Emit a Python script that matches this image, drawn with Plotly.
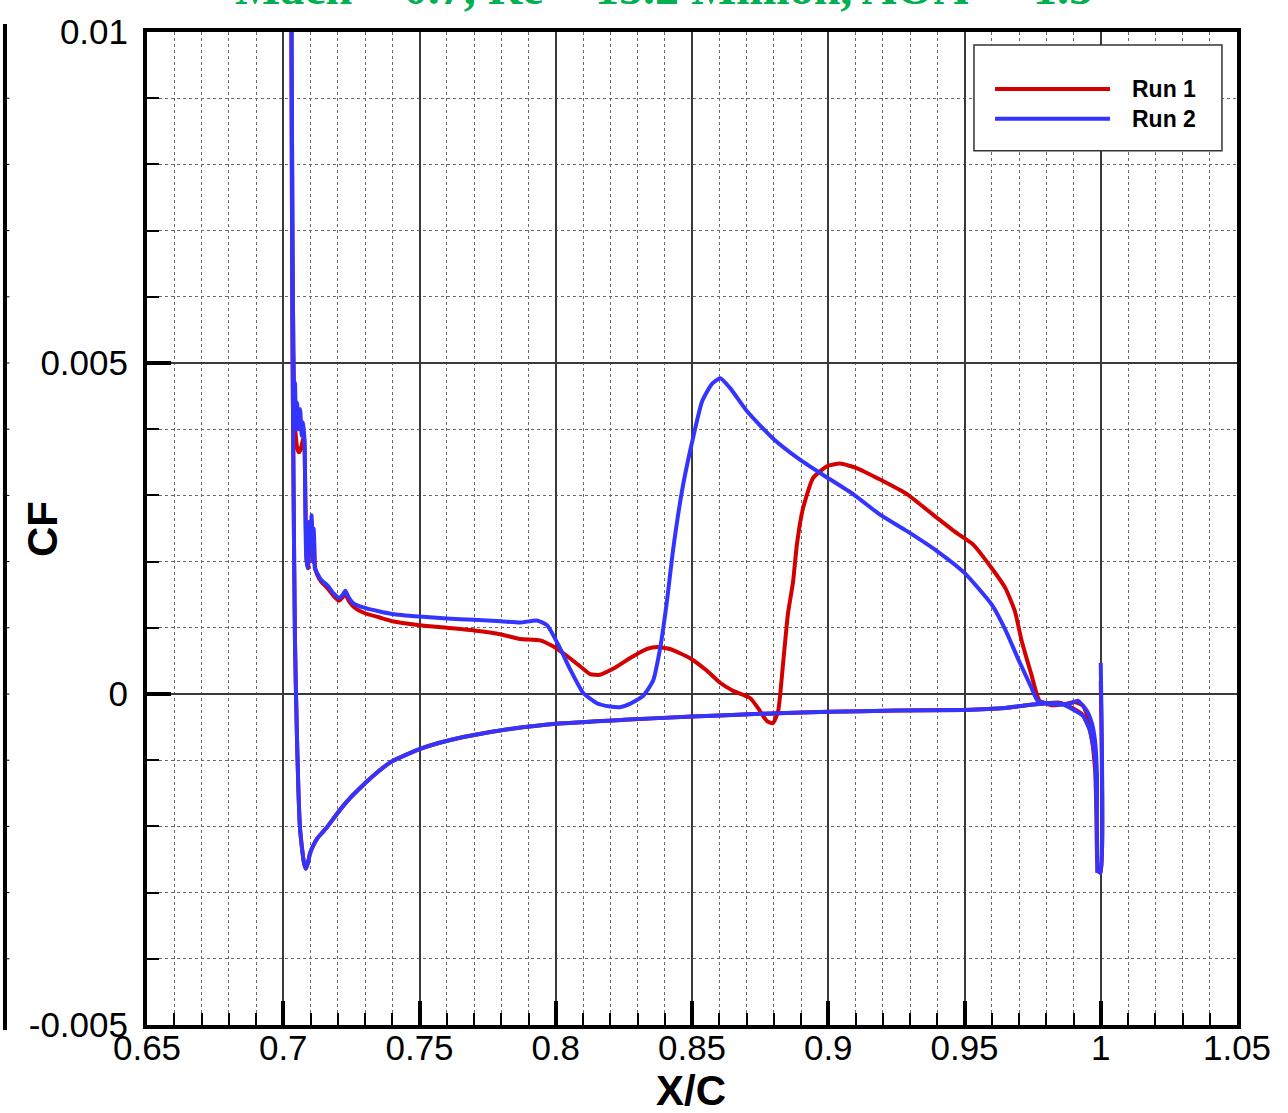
import plotly.graph_objects as go

# Skin-friction coefficient along the flap surface (X/C), two runs
run1_upper_x = [0.7028, 0.7031, 0.7034, 0.7037, 0.7041, 0.7046, 0.7052, 0.7058, 0.7064, 0.7070,
                0.7076, 0.7080, 0.7083, 0.7086, 0.7091, 0.7096, 0.7101, 0.7105, 0.7109, 0.7113,
                0.7117, 0.7125, 0.7140, 0.7162, 0.7185, 0.7205, 0.7218, 0.7228, 0.7240, 0.7260,
                0.7300, 0.7350, 0.7400, 0.7500, 0.7600, 0.7700, 0.7800, 0.7869, 0.7942, 0.7990,
                0.8052, 0.8089, 0.8126, 0.8162, 0.8210, 0.8272, 0.8335, 0.8372, 0.8419, 0.8493,
                0.8555, 0.8603, 0.8650, 0.8713, 0.8742, 0.8775, 0.8797, 0.8816, 0.8834, 0.8852,
                0.8871, 0.8885, 0.8907, 0.8944, 0.8995, 0.9043, 0.9106, 0.9190, 0.9289, 0.9384,
                0.9472, 0.9531, 0.9600, 0.9650, 0.9685, 0.9710, 0.9745, 0.9775, 0.9820, 0.9870,
                0.9905, 0.9935, 0.9955, 0.9970, 0.9983, 0.9990]
run1_upper_cf = [0.0130, 0.0095, 0.0068, 0.0052, 0.0043, 0.0039, 0.0037, 0.00365, 0.0037, 0.0038,
                 0.0039, 0.0033, 0.0025, 0.0020, 0.0019, 0.0025, 0.0022, 0.0026, 0.0020, 0.0024,
                 0.0019, 0.00180, 0.00169, 0.00160, 0.00148, 0.00141, 0.00146, 0.00151, 0.00141, 0.00131,
                 0.00122, 0.00116, 0.00110, 0.00104, 0.00100, 0.00096, 0.00090, 0.00083, 0.00081, 0.00072,
                 0.00054, 0.00042, 0.00030, 0.00029, 0.00038, 0.00054, 0.00068, 0.00071, 0.00068, 0.00054,
                 0.00035, 0.00017, 0.00005, -0.00006, -0.00021, -0.00041, -0.00044, -0.00026, 0.00045, 0.00121,
                 0.00170, 0.00226, 0.00280, 0.00326, 0.00344, 0.00348, 0.00341, 0.00324, 0.00302, 0.00271,
                 0.00243, 0.00226, 0.00190, 0.00160, 0.00125, 0.00080, 0.00030, -0.00010, -0.00017, -0.00015,
                 -0.00012, -0.00018, -0.00038, -0.00075, -0.00140, -0.00267]

run1_lower_x = [0.7028, 0.7033, 0.7038, 0.7043, 0.7050, 0.7056, 0.7061, 0.7068, 0.7076, 0.7083,
                0.7090, 0.7098, 0.7110, 0.7125, 0.7142, 0.7161, 0.7190, 0.7220, 0.7250, 0.7282,
                0.7310, 0.7340, 0.7370, 0.7403, 0.7450, 0.7502, 0.7570, 0.7649, 0.7740, 0.7832,
                0.8000, 0.8250, 0.8500, 0.8750, 0.9000, 0.9250, 0.9500, 0.9650, 0.9750, 0.9850,
                0.9930, 0.9958, 0.9977, 0.9988]
run1_lower_cf = [0.0130, 0.0060, 0.0030, 0.0008, -0.0006, -0.0015, -0.0020, -0.0023, -0.00255, -0.00264,
                 -0.00256, -0.00241, -0.00229, -0.00218, -0.00210, -0.00201, -0.00185, -0.00169, -0.00155, -0.00142,
                 -0.00131, -0.00120, -0.00110, -0.00101, -0.00092, -0.00083, -0.00074, -0.00066, -0.00059, -0.00053,
                 -0.00045, -0.00039, -0.00034, -0.00030, -0.00027, -0.00025, -0.00024, -0.00021, -0.00016, -0.00013,
                 -0.00030, -0.00052, -0.00095, -0.00270]

run2_upper_x = [0.7028, 0.7031, 0.7034, 0.7037, 0.7040, 0.7043, 0.7047, 0.7051, 0.7056, 0.7062,
                0.7068, 0.7074, 0.7079, 0.7081, 0.7084, 0.7089, 0.7094, 0.7099, 0.7104, 0.7108,
                0.7112, 0.7116, 0.7124, 0.7140, 0.7162, 0.7185, 0.7205, 0.7218, 0.7228, 0.7240,
                0.7260, 0.7300, 0.7350, 0.7400, 0.7500, 0.7600, 0.7700, 0.7800, 0.7869, 0.7931,
                0.7968, 0.8016, 0.8052, 0.8100, 0.8151, 0.8200, 0.8236, 0.8272, 0.8320, 0.8357,
                0.8383, 0.8408, 0.8430, 0.8463, 0.8493, 0.8537, 0.8574, 0.8604, 0.8640, 0.8702,
                0.8797, 0.8896, 0.8977, 0.9091, 0.9190, 0.9289, 0.9399, 0.9500, 0.9600, 0.9650,
                0.9700, 0.9745, 0.9768, 0.9800, 0.9850, 0.9890, 0.9916, 0.9950, 0.9968, 0.9979,
                0.9986, 0.9990]
run2_upper_cf = [0.0130, 0.0095, 0.0068, 0.0052, 0.0043, 0.0047, 0.0040, 0.0044, 0.0040, 0.0043,
                 0.0039, 0.0041, 0.0037, 0.0028, 0.0021, 0.0019, 0.0026, 0.0022, 0.0027, 0.0020,
                 0.0025, 0.0019, 0.00183, 0.00172, 0.00164, 0.00152, 0.00145, 0.00150, 0.00156, 0.00146,
                 0.00136, 0.00130, 0.00125, 0.00121, 0.00117, 0.00114, 0.00112, 0.00110, 0.00108, 0.00111,
                 0.00104, 0.00069, 0.00038, 0.00002, -0.00014, -0.00019, -0.00020, -0.00015, -0.00003, 0.00020,
                 0.00069, 0.00140, 0.00216, 0.00306, 0.00367, 0.00442, 0.00469, 0.00477, 0.00462, 0.00427,
                 0.00386, 0.00354, 0.00332, 0.00302, 0.00271, 0.00246, 0.00216, 0.00183, 0.00135, 0.00097,
                 0.00050, 0.00010, -0.00010, -0.00014, -0.00016, -0.00014, -0.00010, -0.00026, -0.00045, -0.00071,
                 -0.00120, -0.00267]

run2_lower_x = [0.7028, 0.7033, 0.7038, 0.7043, 0.7050, 0.7056, 0.7061, 0.7068, 0.7076, 0.7083,
                0.7090, 0.7098, 0.7110, 0.7125, 0.7142, 0.7161, 0.7190, 0.7220, 0.7250, 0.7282,
                0.7310, 0.7340, 0.7370, 0.7403, 0.7450, 0.7502, 0.7570, 0.7649, 0.7740, 0.7832,
                0.8000, 0.8250, 0.8500, 0.8750, 0.9000, 0.9250, 0.9500, 0.9650, 0.9750, 0.9850,
                0.9935, 0.9961, 0.9979, 0.9988]
run2_lower_cf = [0.0130, 0.0060, 0.0030, 0.0008, -0.0006, -0.0015, -0.0020, -0.0023, -0.00255, -0.00264,
                 -0.00256, -0.00241, -0.00229, -0.00218, -0.00210, -0.00201, -0.00185, -0.00169, -0.00155, -0.00142,
                 -0.00131, -0.00120, -0.00110, -0.00101, -0.00092, -0.00083, -0.00074, -0.00066, -0.00059, -0.00053,
                 -0.00045, -0.00039, -0.00034, -0.00030, -0.00027, -0.00025, -0.00024, -0.00021, -0.00016, -0.00014,
                 -0.00033, -0.00056, -0.00097, -0.00270]

# trailing-edge segment at X/C = 1
run1_te_x = [1.0, 1.0]
run1_te_cf = [0.0002, -0.0027]
run2_te_x = [1.0, 1.0]
run2_te_cf = [0.00047, -0.0027]

series_names = ["Run 1", "Run 2"]
series_colors = ["#d40000", "#3434ff"]

x_ticks = [0.65, 0.7, 0.75, 0.8, 0.85, 0.9, 0.95, 1.0, 1.05]
x_tick_labels = ["0.65", "0.7", "0.75", "0.8", "0.85", "0.9", "0.95", "1", "1.05"]
y_ticks = [-0.005, 0.0, 0.005, 0.01]
y_tick_labels = ["-0.005", "0", "0.005", "0.01"]
x_minor = [round(0.65 + 0.01 * i, 2) for i in range(41)]
y_minor = [round(-0.005 + 0.001 * i, 3) for i in range(16)]

title_text = "Mach = 0.7, Re = 15.2 Million, AOA = -1.5"


def surface_path(te_x, te_y, up_x, up_y, lo_x, lo_y):
    # trailing edge -> upper surface to the leading edge -> lower surface back aft
    xs = list(te_x) + up_x[::-1] + lo_x[1:]
    ys = list(te_y) + up_y[::-1] + lo_y[1:]
    return xs, ys


fig = go.Figure()
paths = [
    surface_path(run1_te_x, run1_te_cf, run1_upper_x, run1_upper_cf, run1_lower_x, run1_lower_cf),
    surface_path(run2_te_x, run2_te_cf, run2_upper_x, run2_upper_cf, run2_lower_x, run2_lower_cf),
]
for (xs, ys), name, color in zip(paths, series_names, series_colors):
    fig.add_trace(go.Scatter(x=xs, y=ys, mode="lines", name=name,
                             line=dict(color=color, width=4, shape="spline", smoothing=0.5),
                             showlegend=False))

tick_font = dict(family="Liberation Sans, Arial, sans-serif", size=35, color="black")

fig.update_xaxes(
    range=[0.65, 1.05], tickmode="array", tickvals=x_ticks, ticktext=x_tick_labels,
    ticks="inside", ticklen=24, tickwidth=4, tickcolor="black",
    showline=True, linewidth=4, linecolor="black", mirror=True,
    showgrid=True, gridcolor="#3a3a3a", gridwidth=1.5, zeroline=False,
    tickfont=tick_font, ticklabelstandoff=-11,
    minor=dict(tickmode="array", tickvals=x_minor, ticks="inside", ticklen=12, tickwidth=1.5,
               tickcolor="black", showgrid=True, gridcolor="#6a6a6a", griddash="dot", gridwidth=1.2),
)
fig.update_yaxes(
    range=[-0.005, 0.01], tickmode="array", tickvals=y_ticks, ticktext=y_tick_labels,
    ticks="inside", ticklen=24, tickwidth=4, tickcolor="black",
    showline=True, linewidth=4, linecolor="black", mirror=True,
    showgrid=True, gridcolor="#3a3a3a", gridwidth=1.5, zeroline=False,
    tickfont=tick_font, ticklabelstandoff=8,
    minor=dict(tickmode="array", tickvals=y_minor, ticks="inside", ticklen=12, tickwidth=1.5,
               tickcolor="black", showgrid=True, gridcolor="#6a6a6a", griddash="dot", gridwidth=1.2),
)

# legend drawn as a boxed key with long line samples
shapes = [
    dict(type="rect", xref="paper", yref="paper", x0=0.7587, x1=0.9862, y0=0.8804, y1=0.9869,
         line=dict(color="#333333", width=1.5), fillcolor="white", layer="above"),
]
annotations = []
for name, color, ly in zip(series_names, series_colors, [0.9427, 0.9126]):
    shapes.append(dict(type="line", xref="paper", yref="paper", x0=0.778, x1=0.8835, y0=ly, y1=ly,
                       line=dict(color=color, width=4), layer="above"))
    annotations.append(dict(text="<b>%s</b>" % name, xref="paper", yref="paper", x=0.9018, y=ly,
                            xanchor="left", yanchor="middle", showarrow=False,
                            font=dict(family="Liberation Sans, Arial, sans-serif", size=23, color="black")))

# frame edge of the neighbouring panel at the far left
shapes.append(dict(type="line", xref="paper", yref="paper", x0=-0.1303, x1=-0.1303, y0=-0.005, y1=1.008,
                   line=dict(color="black", width=4)))
for v in y_minor[1:-1]:
    shapes.append(dict(type="line", xref="paper", yref="y", x0=-0.1290, x1=-0.1262, y0=v, y1=v,
                       line=dict(color="black", width=1)))

annotations += [
    dict(text="<b>CF</b>", xref="paper", yref="paper", x=-0.0954, y=0.4995, textangle=-90,
         xanchor="center", yanchor="middle", showarrow=False,
         font=dict(family="Liberation Sans, Arial, sans-serif", size=42, color="black")),
    dict(text="<b>X/C</b>", xref="paper", yref="paper", x=0.4995, y=-0.066,
         xanchor="center", yanchor="middle", showarrow=False,
         font=dict(family="Liberation Sans, Arial, sans-serif", size=42, color="black")),
    dict(text="<b>%s</b>" % title_text, xref="paper", yref="paper", x=0.474, y=1.045,
         xanchor="center", yanchor="middle", showarrow=False,
         font=dict(family="Liberation Serif, Times New Roman, serif", size=48, color="#00b050")),
]

fig.update_layout(
    width=1288, height=1113,
    margin=dict(l=147, r=51, t=30, b=88),
    plot_bgcolor="white", paper_bgcolor="white",
    showlegend=False, shapes=shapes, annotations=annotations,
)

fig.write_html("out.html")
